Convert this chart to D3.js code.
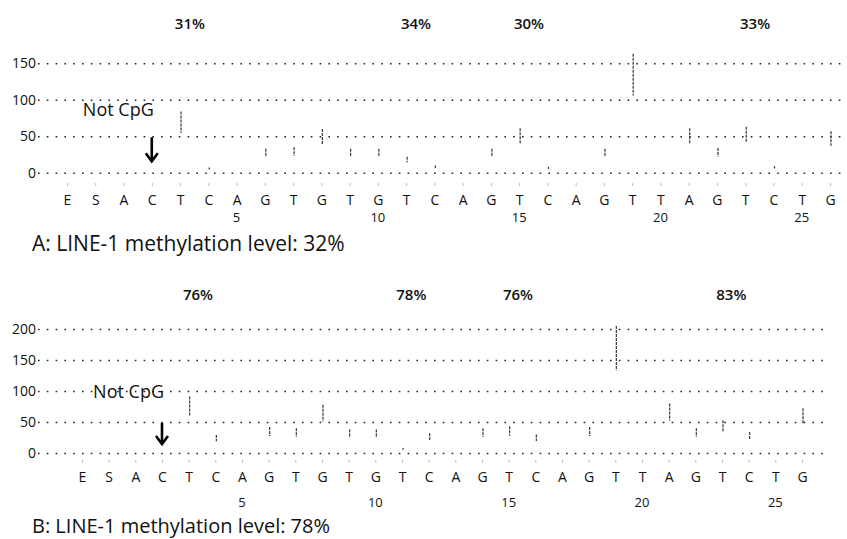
<!DOCTYPE html>
<html>
<head>
<meta charset="utf-8">
<script src="https://cdn.jsdelivr.net/npm/d3@7"></script>
<style>
  body { margin: 0; background: #fff; }
  text { font-family: "Open Sans", sans-serif; fill: #111; }
</style>
</head>
<body>
<div id="chart"></div>
<script>
// dispensation order and sequence position labels
const dispensation = "ESACTCAGTGTGTCAGTCAGTTAGTCTG".split("");
const positionTicks = [5, 10, 15, 20, 25];
const cpgSites = [4, 12, 16, 24];   // index of the T/C pair for each CpG
const notCpgSite = 3;
const arrowFrom = 50;

// panel A
const peaksA = [0, 0, 0, 0, 84, 7, 0, 33, 35, 60, 33, 33, 22, 10,
                0, 33, 61, 8, 0, 33, 163, 0, 61, 34, 63, 9, 0, 57];
const cpgA = [31, 34, 30, 33];
const yTicksA = [0, 50, 100, 150];
const titleA = "A: LINE-1 methylation level: 32%";

// panel B
const peaksB = [0, 0, 0, 0, 91, 29, 0, 42, 40, 78, 38, 38, 8, 32,
                0, 40, 43, 30, 0, 42, 205, 0, 80, 40, 53, 34, 0, 72];
const cpgB = [76, 78, 76, 83];
const yTicksB = [0, 50, 100, 150, 200];
const titleB = "B: LINE-1 methylation level: 78%";

const W = 847, H = 539;

const svg = d3.select("#chart")
  .append("svg")
  .attr("width", W)
  .attr("height", H);

function drawPanel(p) {
  const x = d3.scalePoint()
    .domain(d3.range(dispensation.length))
    .range(p.xRange);

  const y = d3.scaleLinear()
    .domain([0, d3.max(p.yTicks)])
    .range(p.yRange);

  const g = svg.append("g");

  // dotted gridlines with left labels
  const yAxis = g.append("g")
    .attr("transform", `translate(${p.axisX},0)`)
    .call(d3.axisLeft(y).tickValues(p.yTicks)
      .tickSize(-(p.gridEnd - p.axisX)).tickPadding(2));
  yAxis.select(".domain").remove();
  yAxis.selectAll(".tick line")
    .attr("stroke", "#222")
    .attr("stroke-width", 1.6)
    .attr("stroke-dasharray", "1.6 7.2");
  yAxis.selectAll(".tick text").style("font-size", "14px");

  // peak tips
  const peaks = p.peaks.map((v, i) => ({ i, v })).filter(d => d.v > 0);
  g.selectAll(".peak")
    .data(peaks)
    .join("line")
    .attr("class", "peak")
    .attr("x1", d => x(d.i) + 1)
    .attr("x2", d => x(d.i) + 1)
    .attr("y1", d => y(d.v))
    .attr("y2", d => y(d.v) + 0.35 * (y(0) - y(d.v)))
    .attr("stroke", "#333")
    .attr("stroke-width", 1.2)
    .attr("stroke-dasharray", "3 1");

  // CpG methylation percentages
  g.selectAll(".pct")
    .data(p.cpg)
    .join("text")
    .attr("class", "pct")
    .attr("x", (d, k) => x(cpgSites[k]) + x.step() * 0.35)
    .attr("y", p.pctY)
    .attr("text-anchor", "middle")
    .style("font-size", "15px")
    .style("font-weight", 600)
    .text(d => d + "%");

  // dispensation letters
  const xAxis = g.append("g")
    .attr("transform", `translate(0,${p.letterY})`)
    .call(d3.axisBottom(x).tickSize(3).tickPadding(9)
      .tickFormat(i => dispensation[i]));
  xAxis.select(".domain").remove();
  xAxis.selectAll(".tick line").attr("stroke", "#bbb");
  xAxis.selectAll(".tick text").style("font-size", "14px");

  // sequence positions
  g.selectAll(".pos")
    .data(positionTicks)
    .join("text")
    .attr("class", "pos")
    .attr("x", d => x(d + 1))
    .attr("y", p.numY)
    .attr("text-anchor", "middle")
    .style("font-size", "13px")
    .text(d => d);

  // Not CpG arrow
  const ax = x(notCpgSite), ay = y(arrowFrom), ay2 = ay + p.arrowLen;
  g.append("line")
    .attr("x1", ax).attr("x2", ax)
    .attr("y1", ay + 1).attr("y2", ay2)
    .attr("stroke", "#000")
    .attr("stroke-width", 2.6);
  g.append("path")
    .attr("d", `M${ax - 6},${ay2 - 8}L${ax},${ay2}L${ax + 6},${ay2 - 8}`)
    .attr("fill", "none")
    .attr("stroke", "#000")
    .attr("stroke-width", 2.6);
  g.append("text")
    .attr("x", ax + 2)
    .attr("y", ay - p.labelGap)
    .attr("text-anchor", "end")
    .style("font-size", "18px")
    .text("Not CpG");

  g.append("text")
    .attr("x", 32)
    .attr("y", p.titleY)
    .style("font-size", p.titleSize + "px")
    .text(p.title);
}

drawPanel({
  peaks: peaksA, cpg: cpgA, yTicks: yTicksA, title: titleA,
  xRange: [67, 830], yRange: [172.7, 63.3], axisX: 38, gridEnd: 847,
  pctY: 29, letterY: 183, numY: 222, titleY: 251, titleSize: 21,
  arrowLen: 25, labelGap: 20
});

drawPanel({
  peaks: peaksB, cpg: cpgB, yTicks: yTicksB, title: titleB,
  xRange: [82, 802], yRange: [453, 329], axisX: 38, gridEnd: 825,
  pctY: 300, letterY: 460, numY: 507, titleY: 533, titleSize: 20,
  arrowLen: 22, labelGap: 24
});
</script>
</body>
</html>
